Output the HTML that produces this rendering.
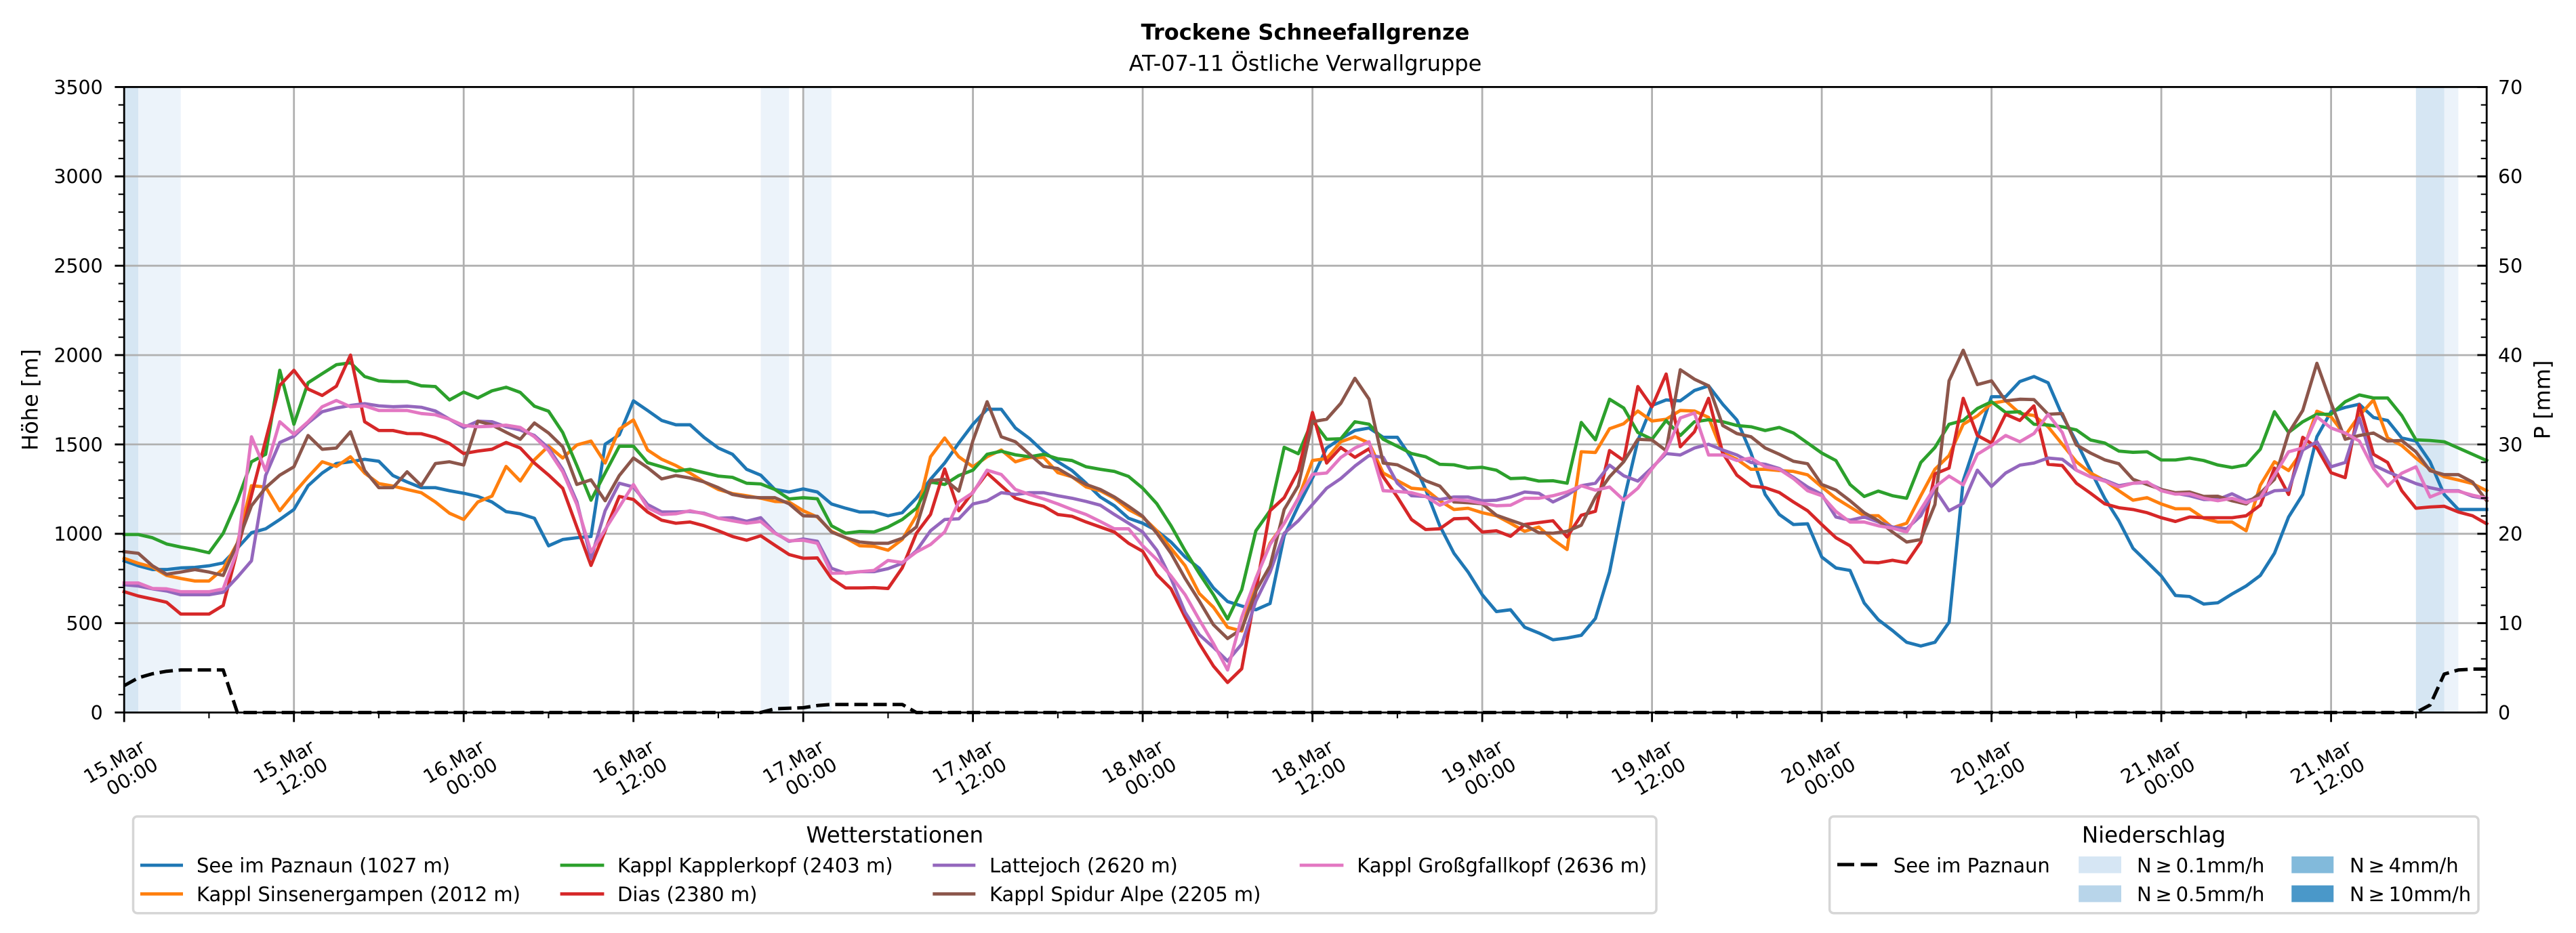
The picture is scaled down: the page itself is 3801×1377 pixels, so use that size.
<!DOCTYPE html>
<html><head><meta charset="utf-8"><style>html,body{margin:0;padding:0;background:#fff}svg{display:block}</style></head>
<body>
<svg xmlns="http://www.w3.org/2000/svg" width="3801" height="1377" viewBox="0 0 3801 1377" font-family="'DejaVu Sans','Liberation Sans',sans-serif">
<rect x="0" y="0" width="3801" height="1377" fill="#ffffff"/>
<!-- precipitation bands -->
<g>
<rect x="183.2" y="128.4" width="20.9" height="923.2" fill="#d6e6f3"/>
<rect x="204.1" y="128.4" width="62.6" height="923.2" fill="#ecf3fa"/>
<rect x="1122.5" y="128.4" width="41.8" height="923.2" fill="#ecf3fa"/>
<rect x="1185.2" y="128.4" width="41.7" height="923.2" fill="#ecf3fa"/>
<rect x="3564.8" y="128.4" width="41.7" height="923.2" fill="#d6e6f3"/>
<rect x="3606.5" y="128.4" width="20.9" height="923.2" fill="#ecf3fa"/>
</g>
<!-- grid -->
<g stroke="#b0b0b0" stroke-width="2.8" fill="none">
<path d="M183.2 919.7H3669M183.2 787.8H3669M183.2 655.9H3669M183.2 524.1H3669M183.2 392.2H3669M183.2 260.3H3669"/>
<path d="M433.7 128.4V1051.6M684.2 128.4V1051.6M934.7 128.4V1051.6M1185.2 128.4V1051.6M1435.6 128.4V1051.6M1686.1 128.4V1051.6M1936.6 128.4V1051.6M2187.1 128.4V1051.6M2437.6 128.4V1051.6M2688.1 128.4V1051.6M2938.6 128.4V1051.6M3189.1 128.4V1051.6M3439.6 128.4V1051.6"/>
</g>
<!-- data series -->
<g transform="matrix(20.874 0 0 -0.26377 183.2 1051.6)" fill="none" stroke-width="4.8" stroke-linejoin="round" stroke-linecap="square">
<polyline vector-effect="non-scaling-stroke" stroke="#1f77b4" points="0,849 1,821 2,800 3,800 4,809 5,812 6,821 7,837 8,919 9,1006 10,1028 11,1080 12,1136 13,1269 14,1340 15,1393 16,1403 17,1417 18,1406 19,1326 20,1290 21,1258 22,1258 23,1241 24,1227 25,1209 26,1178 27,1124 28,1112 29,1087 30,933 31,968 32,978 33,985 34,1501 35,1554 36,1744 37,1690 38,1634 39,1610 40,1610 41,1539 42,1480 43,1445 44,1361 45,1328 46,1248 47,1234 48,1251 49,1234 50,1167 51,1143 52,1122 53,1122 54,1101 55,1118 56,1199 57,1305 58,1396 59,1508 60,1613 61,1697 62,1697 63,1592 64,1533 65,1459 66,1403 67,1354 68,1283 69,1206 70,1157 71,1087 72,1059 73,1017 74,954 75,870 76,807 77,697 78,621 79,596 80,575 81,610 82,989 83,1157 84,1312 85,1480 86,1533 87,1578 88,1592 89,1540 90,1540 91,1424 92,1248 93,1045 94,891 95,786 96,659 97,565 98,575 99,477 100,445 101,407 102,417 103,432 104,526 105,786 106,1185 107,1522 108,1718 109,1749 110,1744 111,1802 112,1828 113,1725 114,1637 115,1452 116,1220 117,1108 118,1052 119,1056 120,870 121,809 122,795 123,613 124,519 125,459 126,393 127,372 128,393 129,505 130,1297 131,1536 132,1767 133,1767 134,1852 135,1880 136,1845 137,1662 138,1515 139,1354 140,1199 141,1073 142,919 143,842 144,764 145,655 146,649 147,607 148,614 149,663 150,708 151,767 152,891 153,1094 154,1220 155,1543 156,1683 157,1707 158,1725 159,1651 160,1634 161,1536 162,1519 163,1403 164,1220 165,1136 166,1136 167,1136"/>
<polyline vector-effect="non-scaling-stroke" stroke="#ff7f0e" points="0,863 1,835 2,814 3,767 4,750 5,736 6,736 7,804 8,947 9,1269 10,1262 11,1129 12,1227 13,1318 14,1403 15,1377 16,1431 17,1340 18,1281 19,1267 20,1248 21,1230 22,1178 23,1115 24,1080 25,1178 26,1211 27,1377 28,1295 29,1414 30,1491 31,1424 32,1497 33,1519 34,1396 35,1585 36,1637 37,1469 38,1417 39,1382 40,1340 41,1290 42,1248 43,1225 44,1213 45,1199 46,1181 47,1178 48,1129 49,1094 50,1014 51,978 52,933 53,930 54,908 55,968 56,1101 57,1431 58,1536 59,1431 60,1375 61,1431 62,1469 63,1403 64,1427 65,1427 66,1342 67,1319 68,1262 69,1241 70,1199 71,1136 72,1094 73,1017 74,919 75,821 76,666 77,589 78,477 79,456 80,750 81,947 82,1059 83,1199 84,1410 85,1421 86,1515 87,1543 88,1508 89,1340 90,1298 91,1255 92,1248 93,1185 94,1136 95,1143 96,1118 97,1101 98,1059 99,1014 100,1038 101,968 102,912 103,1459 104,1455 105,1588 106,1616 107,1687 108,1631 109,1641 110,1690 111,1687 112,1651 113,1452 114,1417 115,1361 116,1361 117,1354 118,1349 119,1330 120,1262 121,1199 122,1150 123,1101 124,1101 125,1034 126,1059 127,1213 128,1361 129,1438 130,1613 131,1660 132,1730 133,1744 134,1674 135,1662 136,1599 137,1501 138,1403 139,1340 140,1298 141,1241 142,1188 143,1202 144,1167 145,1140 146,1140 147,1087 148,1066 149,1066 150,1017 151,1272 152,1403 153,1354 154,1466 155,1686 156,1655 157,1550 158,1662 159,1749 160,1536 161,1494 162,1424 163,1361 164,1319 165,1301 166,1281 167,1241"/>
<polyline vector-effect="non-scaling-stroke" stroke="#2ca02c" points="0,996 1,996 2,978 3,943 4,926 5,912 6,894 7,1003 8,1185 9,1403 10,1445 11,1915 12,1613 13,1845 14,1896 15,1946 16,1957 17,1880 18,1856 19,1852 20,1852 21,1828 22,1824 23,1749 24,1793 25,1760 26,1800 27,1820 28,1791 29,1714 30,1686 31,1567 32,1382 33,1188 34,1340 35,1490 36,1490 37,1398 38,1375 39,1351 40,1361 41,1342 42,1323 43,1316 44,1283 45,1279 46,1248 47,1195 48,1202 49,1196 50,1045 51,1003 52,1013 53,1010 54,1038 55,1080 56,1143 57,1290 58,1276 59,1326 60,1356 61,1445 62,1462 63,1442 64,1431 65,1445 66,1420 67,1410 68,1375 69,1361 70,1349 71,1321 72,1255 73,1168 74,1045 75,905 76,778 77,659 78,523 79,687 80,1017 81,1129 82,1484 83,1448 84,1634 85,1529 86,1532 87,1627 88,1613 89,1529 90,1490 91,1449 92,1431 93,1389 94,1386 95,1368 96,1372 97,1356 98,1309 99,1312 100,1295 101,1297 102,1283 103,1623 104,1526 105,1753 106,1704 107,1567 108,1529 109,1634 110,1550 111,1627 112,1638 113,1627 114,1606 115,1599 116,1578 117,1595 118,1564 119,1508 120,1452 121,1410 122,1276 123,1209 124,1239 125,1213 126,1199 127,1399 128,1483 129,1613 130,1634 131,1701 132,1739 133,1679 134,1683 135,1613 136,1609 137,1599 138,1581 139,1525 140,1508 141,1463 142,1456 143,1459 144,1413 145,1413 146,1424 147,1410 148,1385 149,1371 150,1385 151,1473 152,1683 153,1567 154,1627 155,1669 156,1669 157,1739 158,1777 159,1760 160,1760 161,1662 162,1526 163,1522 164,1515 165,1480 166,1445 167,1410"/>
<polyline vector-effect="non-scaling-stroke" stroke="#d62728" points="0,676 1,652 2,635 3,617 4,551 5,551 6,551 7,599 8,907 9,1216 10,1523 11,1830 12,1915 13,1810 14,1774 15,1826 16,2000 17,1627 18,1578 19,1578 20,1561 21,1560 22,1539 23,1505 24,1449 25,1463 26,1473 27,1511 28,1480 29,1396 30,1329 31,1255 32,1038 33,823 34,1017 35,1209 36,1192 37,1122 38,1076 39,1059 40,1066 41,1045 42,1017 43,985 44,964 45,989 46,936 47,884 48,863 49,865 50,750 51,697 52,697 53,699 54,694 55,809 56,1003 57,1108 58,1363 59,1129 60,1234 61,1340 62,1269 63,1199 64,1174 65,1154 66,1108 67,1098 68,1066 69,1038 70,1010 71,947 72,902 73,771 74,692 75,533 76,386 77,260 78,168 79,245 80,680 81,1129 82,1202 83,1354 84,1679 85,1396 86,1483 87,1428 88,1476 89,1319 90,1206 91,1080 92,1024 93,1028 94,1084 95,1087 96,1010 97,1017 98,986 99,1052 100,1063 101,1073 102,982 103,1104 104,1126 105,1466 106,1410 107,1824 108,1711 109,1894 110,1487 111,1571 112,1758 113,1452 114,1328 115,1267 116,1258 117,1231 118,1178 119,1129 120,1052 121,978 122,933 123,842 124,838 125,852 126,838 127,954 128,1335 129,1368 130,1758 131,1550 132,1508 133,1669 134,1634 135,1716 136,1389 137,1382 138,1283 139,1227 140,1168 141,1146 142,1136 143,1118 144,1090 145,1069 146,1094 147,1090 148,1090 149,1090 150,1101 151,1160 152,1368 153,1220 154,1540 155,1480 156,1342 157,1314 158,1721 159,1445 160,1399 161,1241 162,1143 163,1150 164,1154 165,1122 166,1101 167,1056"/>
<polyline vector-effect="non-scaling-stroke" stroke="#9467bd" points="0,715 1,708 2,692 3,680 4,659 5,659 6,659 7,673 8,757 9,849 10,1326 11,1511 12,1546 13,1620 14,1683 15,1704 16,1718 17,1728 18,1716 19,1711 20,1714 21,1708 22,1687 23,1641 24,1595 25,1630 26,1627 27,1599 28,1581 29,1550 30,1480 31,1360 32,1180 33,863 34,1129 35,1283 36,1262 37,1164 38,1122 39,1122 40,1125 41,1115 42,1087 43,1090 44,1070 45,1090 46,1006 47,958 48,971 49,958 50,807 51,779 52,788 53,788 54,805 55,835 56,905 57,1017 58,1080 59,1084 60,1167 61,1185 62,1230 63,1220 64,1230 65,1230 66,1213 67,1199 68,1181 69,1160 70,1108 71,1059 72,1010 73,908 74,750 75,561 76,435 77,365 78,288 79,383 80,624 81,785 82,1003 83,1073 84,1164 85,1255 86,1309 87,1379 88,1438 89,1428 90,1283 91,1213 92,1209 93,1192 94,1206 95,1206 96,1185 97,1188 98,1206 99,1234 100,1227 101,1178 102,1216 103,1269 104,1283 105,1384 106,1325 107,1295 108,1370 109,1449 110,1441 111,1480 112,1501 113,1469 114,1441 115,1399 116,1389 117,1365 118,1316 119,1262 120,1220 121,1094 122,1076 123,1094 124,1066 125,1038 126,1028 127,1101 128,1248 129,1129 130,1171 131,1356 132,1265 133,1340 134,1384 135,1396 136,1424 137,1417 138,1356 139,1319 140,1301 141,1269 142,1283 143,1286 144,1248 145,1227 146,1213 147,1192 148,1192 149,1224 150,1185 151,1206 152,1241 153,1245 154,1469 155,1515 156,1375 157,1399 158,1648 159,1385 160,1347 161,1314 162,1281 163,1258 164,1241 165,1241 166,1210 167,1196"/>
<polyline vector-effect="non-scaling-stroke" stroke="#8c564b" points="0,900 1,891 2,821 3,774 4,786 5,800 6,786 7,767 8,947 9,1157 10,1258 11,1328 12,1375 13,1550 14,1473 15,1480 16,1571 17,1354 18,1258 19,1258 20,1347 21,1270 22,1393 23,1403 24,1385 25,1630 26,1609 27,1568 28,1529 29,1620 30,1564 31,1487 32,1276 33,1302 34,1185 35,1326 36,1424 37,1370 38,1307 39,1326 40,1312 41,1290 42,1258 43,1220 44,1206 45,1202 46,1202 47,1168 48,1101 49,1098 50,1010 51,978 52,954 53,947 54,947 55,975 56,1038 57,1297 58,1305 59,1239 60,1522 61,1739 62,1543 63,1515 64,1445 65,1377 66,1365 67,1319 68,1276 69,1248 70,1206 71,1154 72,1098 73,1003 74,891 75,750 76,624 77,491 78,414 79,467 80,680 81,820 82,1136 83,1269 84,1627 85,1641 86,1730 87,1870 88,1753 89,1396 90,1386 91,1347 92,1297 93,1267 94,1178 95,1174 96,1168 97,1104 98,1076 99,1049 100,1006 101,1003 102,1014 103,1048 104,1206 105,1319 106,1403 107,1529 108,1525 109,1465 110,1918 111,1865 112,1828 113,1606 114,1561 115,1543 116,1480 117,1445 118,1406 119,1392 120,1276 121,1245 122,1185 123,1118 124,1073 125,1010 126,954 127,968 128,1164 129,1856 130,2027 131,1835 132,1856 133,1744 134,1753 135,1751 136,1669 137,1673 138,1497 139,1452 140,1414 141,1392 142,1305 143,1276 144,1248 145,1230 146,1234 147,1209 148,1210 149,1185 150,1167 151,1227 152,1305 153,1564 154,1690 155,1954 156,1732 157,1529 158,1550 159,1564 160,1519 161,1522 162,1459 163,1353 164,1331 165,1331 166,1290 167,1185"/>
<polyline vector-effect="non-scaling-stroke" stroke="#e377c2" points="0,725 1,725 2,694 3,692 4,676 5,676 6,676 7,692 8,905 9,1543 10,1354 11,1627 12,1557 13,1627 14,1711 15,1746 16,1711 17,1716 18,1690 19,1690 20,1690 21,1673 22,1666 23,1641 24,1606 25,1599 26,1602 27,1608 28,1595 29,1543 30,1466 31,1347 32,1164 33,898 34,1024 35,1150 36,1276 37,1146 38,1108 39,1112 40,1129 41,1112 42,1087 43,1073 44,1059 45,1069 46,1003 47,961 48,964 49,947 50,779 51,781 52,788 53,795 54,851 55,839 56,898 57,940 58,1010 59,1178 60,1230 61,1356 62,1332 63,1248 64,1220 65,1195 66,1167 67,1136 68,1108 69,1069 70,1028 71,1028 72,933 73,856 74,764 75,659 76,519 77,386 78,238 79,533 80,750 81,940 82,1059 83,1199 84,1333 85,1340 86,1427 87,1480 88,1515 89,1241 90,1237 91,1230 92,1209 93,1160 94,1192 95,1185 96,1171 97,1157 98,1160 99,1199 100,1199 101,1213 102,1234 103,1269 104,1244 105,1262 106,1189 107,1255 108,1364 109,1462 110,1648 111,1676 112,1441 113,1441 114,1410 115,1424 116,1375 117,1361 118,1309 119,1241 120,1213 121,1125 122,1066 123,1066 124,1045 125,1031 126,1010 127,1136 128,1262 129,1323 130,1274 131,1445 132,1494 133,1550 134,1515 135,1561 136,1668 137,1567 138,1356 139,1319 140,1295 141,1262 142,1283 143,1290 144,1241 145,1222 146,1224 147,1199 148,1185 149,1199 150,1174 151,1202 152,1328 153,1459 154,1480 155,1655 156,1592 157,1564 158,1519 159,1365 160,1267 161,1339 162,1375 163,1206 164,1238 165,1238 166,1216 167,1199"/>
</g>
<!-- precipitation dashed -->
<path d="M183.2,1012.0 L204.1,1000.4 L224.9,994.4 L245.8,990.7 L266.7,988.8 L329.3,988.8 L350.2,1051.6 L1122.5,1051.6 L1143.4,1046.1 L1164.3,1045.3 L1185.2,1044.5 L1206.0,1041.3 L1226.9,1039.7 L1331.3,1039.7 L1352.1,1051.6 L3564.8,1051.6 L3585.7,1040.5 L3606.5,994.9 L3627.4,988.8 L3648.3,987.5 L3669.2,987.5" fill="none" stroke="#000" stroke-width="5" stroke-dasharray="19.7 8.5" stroke-linejoin="round"/>
<!-- spines -->
<rect x="183.2" y="128.4" width="3486" height="923.2" fill="none" stroke="#000" stroke-width="2.84"/>
<!-- ticks -->
<g stroke="#000" fill="none">
<path stroke-width="2.84" d="M183.2 1051.6h-13.8M183.2 919.7h-13.8M183.2 787.8h-13.8M183.2 655.9h-13.8M183.2 524.1h-13.8M183.2 392.2h-13.8M183.2 260.3h-13.8M183.2 128.4h-13.8"/>
<path stroke-width="2.1" d="M183.2 1025.22h-8.5M183.2 998.85h-8.5M183.2 972.47h-8.5M183.2 946.09h-8.5M183.2 893.34h-8.5M183.2 866.96h-8.5M183.2 840.58h-8.5M183.2 814.21h-8.5M183.2 761.45h-8.5M183.2 735.08h-8.5M183.2 708.70h-8.5M183.2 682.32h-8.5M183.2 629.57h-8.5M183.2 603.19h-8.5M183.2 576.81h-8.5M183.2 550.44h-8.5M183.2 497.68h-8.5M183.2 471.31h-8.5M183.2 444.93h-8.5M183.2 418.55h-8.5M183.2 365.80h-8.5M183.2 339.42h-8.5M183.2 313.04h-8.5M183.2 286.67h-8.5M183.2 233.91h-8.5M183.2 207.54h-8.5M183.2 181.16h-8.5M183.2 154.78h-8.5"/>
<path stroke-width="2.84" d="M3669.2 1051.6h-13.8M3669.2 919.7h-13.8M3669.2 787.8h-13.8M3669.2 655.9h-13.8M3669.2 524.1h-13.8M3669.2 392.2h-13.8M3669.2 260.3h-13.8M3669.2 128.4h-13.8"/>
<path stroke-width="2.1" d="M3669.2 1025.22h-8.5M3669.2 998.85h-8.5M3669.2 972.47h-8.5M3669.2 946.09h-8.5M3669.2 893.34h-8.5M3669.2 866.96h-8.5M3669.2 840.58h-8.5M3669.2 814.21h-8.5M3669.2 761.45h-8.5M3669.2 735.08h-8.5M3669.2 708.70h-8.5M3669.2 682.32h-8.5M3669.2 629.57h-8.5M3669.2 603.19h-8.5M3669.2 576.81h-8.5M3669.2 550.44h-8.5M3669.2 497.68h-8.5M3669.2 471.31h-8.5M3669.2 444.93h-8.5M3669.2 418.55h-8.5M3669.2 365.80h-8.5M3669.2 339.42h-8.5M3669.2 313.04h-8.5M3669.2 286.67h-8.5M3669.2 233.91h-8.5M3669.2 207.54h-8.5M3669.2 181.16h-8.5M3669.2 154.78h-8.5"/>
<path stroke-width="2.84" d="M183.2 1051.6v14M433.7 1051.6v14M684.2 1051.6v14M934.7 1051.6v14M1185.2 1051.6v14M1435.6 1051.6v14M1686.1 1051.6v14M1936.6 1051.6v14M2187.1 1051.6v14M2437.6 1051.6v14M2688.1 1051.6v14M2938.6 1051.6v14M3189.1 1051.6v14M3439.6 1051.6v14"/>
<path stroke-width="2.1" d="M308.4 1051.6v8.5M558.9 1051.6v8.5M809.4 1051.6v8.5M1059.9 1051.6v8.5M1310.4 1051.6v8.5M1560.9 1051.6v8.5M1811.4 1051.6v8.5M2061.9 1051.6v8.5M2312.4 1051.6v8.5M2562.9 1051.6v8.5M2813.4 1051.6v8.5M3063.9 1051.6v8.5M3314.4 1051.6v8.5M3564.8 1051.6v8.5"/>
</g>
<!-- y tick labels -->
<g font-size="28.4" fill="#000" text-anchor="end">
<text x="151.7" y="1062">0</text>
<text x="151.7" y="930.1">500</text>
<text x="151.7" y="798.2">1000</text>
<text x="151.7" y="666.3">1500</text>
<text x="151.7" y="534.5">2000</text>
<text x="151.7" y="402.6">2500</text>
<text x="151.7" y="270.7">3000</text>
<text x="151.7" y="138.8">3500</text>
</g>
<g font-size="28.4" fill="#000" text-anchor="start">
<text x="3686" y="1062">0</text>
<text x="3686" y="930.1">10</text>
<text x="3686" y="798.2">20</text>
<text x="3686" y="666.3">30</text>
<text x="3686" y="534.5">40</text>
<text x="3686" y="402.6">50</text>
<text x="3686" y="270.7">60</text>
<text x="3686" y="138.8">70</text>
</g>
<!-- x tick labels -->
<g font-size="28.4" fill="#000" text-anchor="middle">
<g transform="translate(183.2 0)"><text x="-14.8" y="1134.05" transform="rotate(-30 -14.8 1123.7)">15.Mar</text><text x="11.5" y="1155.95" transform="rotate(-30 11.5 1145.6)">00:00</text></g>
<g transform="translate(433.7 0)"><text x="-14.8" y="1134.05" transform="rotate(-30 -14.8 1123.7)">15.Mar</text><text x="11.5" y="1155.95" transform="rotate(-30 11.5 1145.6)">12:00</text></g>
<g transform="translate(684.2 0)"><text x="-14.8" y="1134.05" transform="rotate(-30 -14.8 1123.7)">16.Mar</text><text x="11.5" y="1155.95" transform="rotate(-30 11.5 1145.6)">00:00</text></g>
<g transform="translate(934.7 0)"><text x="-14.8" y="1134.05" transform="rotate(-30 -14.8 1123.7)">16.Mar</text><text x="11.5" y="1155.95" transform="rotate(-30 11.5 1145.6)">12:00</text></g>
<g transform="translate(1185.2 0)"><text x="-14.8" y="1134.05" transform="rotate(-30 -14.8 1123.7)">17.Mar</text><text x="11.5" y="1155.95" transform="rotate(-30 11.5 1145.6)">00:00</text></g>
<g transform="translate(1435.6 0)"><text x="-14.8" y="1134.05" transform="rotate(-30 -14.8 1123.7)">17.Mar</text><text x="11.5" y="1155.95" transform="rotate(-30 11.5 1145.6)">12:00</text></g>
<g transform="translate(1686.1 0)"><text x="-14.8" y="1134.05" transform="rotate(-30 -14.8 1123.7)">18.Mar</text><text x="11.5" y="1155.95" transform="rotate(-30 11.5 1145.6)">00:00</text></g>
<g transform="translate(1936.6 0)"><text x="-14.8" y="1134.05" transform="rotate(-30 -14.8 1123.7)">18.Mar</text><text x="11.5" y="1155.95" transform="rotate(-30 11.5 1145.6)">12:00</text></g>
<g transform="translate(2187.1 0)"><text x="-14.8" y="1134.05" transform="rotate(-30 -14.8 1123.7)">19.Mar</text><text x="11.5" y="1155.95" transform="rotate(-30 11.5 1145.6)">00:00</text></g>
<g transform="translate(2437.6 0)"><text x="-14.8" y="1134.05" transform="rotate(-30 -14.8 1123.7)">19.Mar</text><text x="11.5" y="1155.95" transform="rotate(-30 11.5 1145.6)">12:00</text></g>
<g transform="translate(2688.1 0)"><text x="-14.8" y="1134.05" transform="rotate(-30 -14.8 1123.7)">20.Mar</text><text x="11.5" y="1155.95" transform="rotate(-30 11.5 1145.6)">00:00</text></g>
<g transform="translate(2938.6 0)"><text x="-14.8" y="1134.05" transform="rotate(-30 -14.8 1123.7)">20.Mar</text><text x="11.5" y="1155.95" transform="rotate(-30 11.5 1145.6)">12:00</text></g>
<g transform="translate(3189.1 0)"><text x="-14.8" y="1134.05" transform="rotate(-30 -14.8 1123.7)">21.Mar</text><text x="11.5" y="1155.95" transform="rotate(-30 11.5 1145.6)">00:00</text></g>
<g transform="translate(3439.6 0)"><text x="-14.8" y="1134.05" transform="rotate(-30 -14.8 1123.7)">21.Mar</text><text x="11.5" y="1155.95" transform="rotate(-30 11.5 1145.6)">12:00</text></g>
</g>
<!-- axis labels -->
<text x="45.6" y="600" font-size="32" text-anchor="middle" transform="rotate(-90 45.6 590)">Höhe [m]</text>
<text x="3752.5" y="600" font-size="32" text-anchor="middle" transform="rotate(-90 3752.5 590)">P [mm]</text>
<!-- titles -->
<text x="1926" y="58.3" font-size="32" font-weight="bold" text-anchor="middle">Trockene Schneefallgrenze</text>
<text x="1926" y="104.3" font-size="32" text-anchor="middle">AT-07-11 Östliche Verwallgruppe</text>
<!-- legend 1 -->
<rect x="196.5" y="1205" width="2247.5" height="142.7" rx="6" ry="6" fill="#fff" stroke="#d6d6d6" stroke-width="3.5"/>
<text x="1320.3" y="1243.3" font-size="32.5" text-anchor="middle">Wetterstationen</text>
<g stroke-width="4.8" stroke-linecap="butt">
<line x1="207" y1="1277" x2="270" y2="1277" stroke="#1f77b4"/>
<line x1="207" y1="1319.3" x2="270" y2="1319.3" stroke="#ff7f0e"/>
<line x1="826.6" y1="1277" x2="891.4" y2="1277" stroke="#2ca02c"/>
<line x1="826.6" y1="1319.3" x2="891.4" y2="1319.3" stroke="#d62728"/>
<line x1="1376.3" y1="1277" x2="1439.3" y2="1277" stroke="#9467bd"/>
<line x1="1376.3" y1="1319.3" x2="1439.3" y2="1319.3" stroke="#8c564b"/>
<line x1="1917.7" y1="1277" x2="1982.4" y2="1277" stroke="#e377c2"/>
</g>
<g font-size="29" fill="#000">
<text x="290" y="1287.3">See im Paznaun (1027 m)</text>
<text x="290" y="1330">Kappl Sinsenergampen (2012 m)</text>
<text x="911" y="1287.3">Kappl Kapplerkopf (2403 m)</text>
<text x="911" y="1330">Dias (2380 m)</text>
<text x="1460" y="1287.3">Lattejoch (2620 m)</text>
<text x="1460" y="1330">Kappl Spidur Alpe (2205 m)</text>
<text x="2002.3" y="1287.3">Kappl Großgfallkopf (2636 m)</text>
</g>
<!-- legend 2 -->
<rect x="2699.6" y="1205" width="957.4" height="142.7" rx="6" ry="6" fill="#fff" stroke="#d6d6d6" stroke-width="3.5"/>
<text x="3178" y="1243.3" font-size="32.5" text-anchor="middle">Niederschlag</text>
<path d="M2711 1276H2736M2745.5 1276H2770" stroke="#000" stroke-width="5"/>
<rect x="3067.2" y="1264" width="62.8" height="24.7" fill="#d6e6f4"/>
<rect x="3067.2" y="1306.7" width="62.8" height="24.7" fill="#b8d5ea"/>
<rect x="3381.3" y="1264" width="62" height="24.7" fill="#82badb"/>
<rect x="3381.3" y="1306.7" width="62" height="24.7" fill="#4a98c9"/>
<g font-size="29" fill="#000">
<text x="2793.8" y="1287.3">See im Paznaun</text>
<text x="3153" y="1287.3">N&#8201;≥&#8201;0.1mm/h</text>
<text x="3153" y="1330">N&#8201;≥&#8201;0.5mm/h</text>
<text x="3467" y="1287.3">N&#8201;≥&#8201;4mm/h</text>
<text x="3467" y="1330">N&#8201;≥&#8201;10mm/h</text>
</g>
</svg>
</body></html>
